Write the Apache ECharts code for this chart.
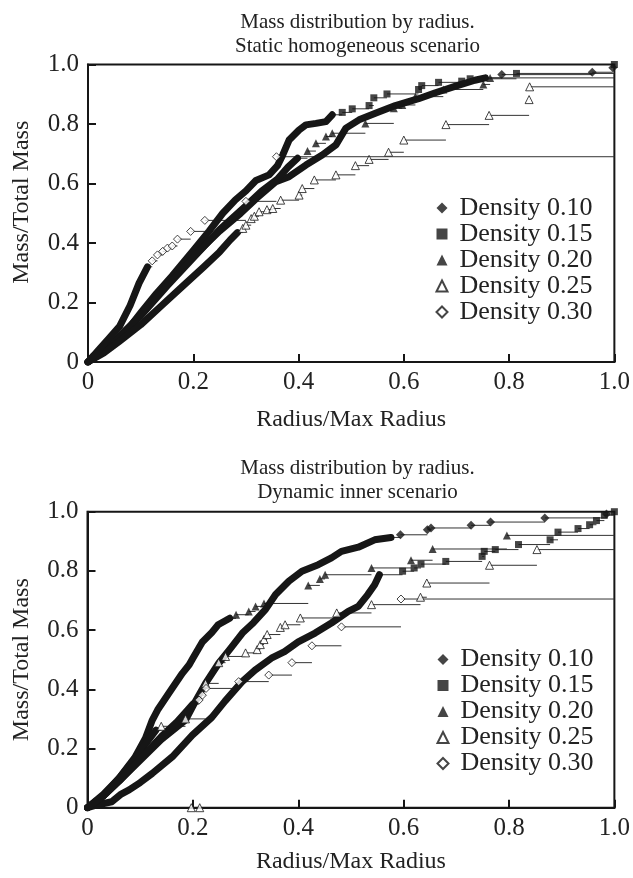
<!DOCTYPE html>
<html>
<head>
<meta charset="utf-8">
<script src="https://cdn.jsdelivr.net/npm/echarts@6/dist/echarts.min.js"></script>
<style>html,body{margin:0;padding:0;background:#fff}#c{width:633px;height:878px}</style>
</head>
<body>
<div id="c"></div>
<script>
// ---------- data ----------
const legendNames = ['Density 0.10', 'Density 0.15', 'Density 0.20', 'Density 0.25', 'Density 0.30'];
const tickValues = [0, 0.2, 0.4, 0.6, 0.8, 1.0];
const tickLabels = ['0', '0.2', '0.4', '0.6', '0.8', '1.0'];
const titleTop = 'Mass distribution by radius.\nStatic homogeneous scenario';
const titleBottom = 'Mass distribution by radius.\nDynamic inner scenario';
const xName = 'Radius/Max Radius';
const yName = 'Mass/Total Mass';

// Static homogeneous scenario (top)
const top010Band = [[0,0],[0.04,0.05],[0.08,0.12],[0.12,0.2],[0.16,0.28],[0.2,0.355],[0.25,0.44],[0.29,0.5],[0.32,0.55],[0.357,0.606],[0.382,0.623],[0.414,0.662],[0.445,0.696],[0.471,0.73],[0.49,0.786],[0.515,0.814],[0.546,0.836],[0.584,0.862],[0.628,0.885],[0.66,0.905],[0.7,0.928],[0.735,0.947],[0.755,0.955]];
const top010Pts = [[0.786,0.966],[0.958,0.974],[0.997,0.989]];
const top015Band = [[0,0],[0.01,0.02],[0.03,0.04],[0.05,0.07],[0.08,0.12],[0.1,0.165],[0.13,0.23],[0.16,0.29],[0.2,0.375],[0.23,0.44],[0.256,0.5],[0.28,0.545],[0.3,0.575],[0.319,0.61],[0.344,0.629],[0.36,0.66],[0.37,0.696],[0.382,0.746],[0.401,0.78],[0.414,0.797],[0.433,0.802],[0.452,0.808],[0.464,0.831]];
const top015Pts = [[0.483,0.839],[0.502,0.851],[0.534,0.862],[0.543,0.888],[0.568,0.901],[0.628,0.916],[0.634,0.929],[0.666,0.94],[0.71,0.944],[0.726,0.952],[0.814,0.97],[1.0,1.0]];
const top020Band = [[0,0],[0.05,0.07],[0.1,0.155],[0.15,0.255],[0.2,0.35],[0.25,0.445],[0.3,0.525],[0.33,0.575],[0.36,0.615],[0.38,0.655],[0.398,0.685]];
const top020Pts = [[0.417,0.709],[0.433,0.735],[0.452,0.758],[0.464,0.769],[0.527,0.802],[0.581,0.853],[0.597,0.864],[0.622,0.892],[0.675,0.916],[0.751,0.933],[0.764,0.955]];
const top025Band = [[0,0],[0.03,0.03],[0.06,0.07],[0.1,0.125],[0.14,0.19],[0.18,0.255],[0.22,0.32],[0.25,0.37],[0.27,0.41],[0.284,0.435]];
const top025Pts = [[0.294,0.449],[0.3,0.46],[0.31,0.482],[0.316,0.49],[0.325,0.505],[0.34,0.512],[0.351,0.516],[0.366,0.544],[0.401,0.561],[0.407,0.583],[0.43,0.612],[0.471,0.629],[0.508,0.66],[0.534,0.681],[0.571,0.705],[0.6,0.746],[0.68,0.798],[0.762,0.829],[0.838,0.882],[0.839,0.925]];
const top030Band = [[0,0],[0.02,0.04],[0.04,0.08],[0.06,0.12],[0.08,0.19],[0.097,0.265],[0.113,0.32]];
const top030Pts = [[0.122,0.34],[0.132,0.36],[0.142,0.372],[0.151,0.383],[0.16,0.39],[0.17,0.413],[0.195,0.439],[0.222,0.476],[0.30,0.54],[0.358,0.69]];

// Dynamic inner scenario (bottom)
const bot010Band = [[0,0],[0.03,0.04],[0.06,0.09],[0.1,0.16],[0.14,0.23],[0.186,0.296],[0.205,0.36],[0.224,0.42],[0.249,0.488],[0.27,0.535],[0.294,0.59],[0.315,0.625],[0.338,0.67],[0.357,0.72],[0.382,0.765],[0.407,0.799],[0.438,0.821],[0.463,0.844],[0.482,0.866],[0.514,0.88],[0.545,0.905],[0.576,0.913]];
const bot010Pts = [[0.594,0.922],[0.645,0.939],[0.652,0.945],[0.728,0.954],[0.765,0.965],[0.868,0.979],[0.985,0.992]];
const bot015Band = [[0,0],[0.02,0.01],[0.046,0.02],[0.064,0.046],[0.079,0.06],[0.1,0.085],[0.123,0.116],[0.161,0.172],[0.199,0.245],[0.236,0.305],[0.261,0.36],[0.293,0.425],[0.318,0.465],[0.349,0.505],[0.374,0.527],[0.4,0.56],[0.432,0.59],[0.463,0.624],[0.495,0.663],[0.514,0.68],[0.532,0.72],[0.545,0.753],[0.554,0.787]];
const bot015Pts = [[0.598,0.799],[0.62,0.81],[0.633,0.823],[0.68,0.832],[0.749,0.849],[0.753,0.866],[0.774,0.872],[0.818,0.889],[0.878,0.905],[0.893,0.931],[0.931,0.943],[0.953,0.956],[0.966,0.97],[0.981,0.988],[1.0,1.0]];
const bot020Band = [[0,0],[0.03,0.045],[0.06,0.1],[0.09,0.17],[0.11,0.235],[0.123,0.296],[0.133,0.33],[0.154,0.386],[0.18,0.454],[0.193,0.483],[0.2,0.505],[0.218,0.56],[0.236,0.592],[0.248,0.618],[0.27,0.64]];
const bot020Pts = [[0.282,0.652],[0.306,0.663],[0.319,0.68],[0.335,0.69],[0.419,0.751],[0.441,0.773],[0.451,0.787],[0.539,0.81],[0.614,0.836],[0.655,0.874],[0.796,0.92]];
const bot025Band = [[0,0],[0.03,0.04],[0.06,0.1],[0.09,0.165],[0.11,0.215],[0.13,0.262]];
const bot025Pts = [[0.14,0.275],[0.186,0.3],[0.224,0.42],[0.249,0.49],[0.262,0.511],[0.3,0.523],[0.322,0.534],[0.328,0.551],[0.335,0.568],[0.341,0.585],[0.366,0.609],[0.375,0.618],[0.404,0.641],[0.473,0.658],[0.539,0.686],[0.632,0.711],[0.644,0.759],[0.763,0.819],[0.853,0.872]];
const bot025Out = [[0.197,0],[0.213,0]];
const bot030Band = [[0,0],[0.03,0.04],[0.06,0.09],[0.1,0.165],[0.14,0.24],[0.17,0.29],[0.19,0.33],[0.2,0.35]];
const bot030Pts = [[0.212,0.364],[0.218,0.38],[0.225,0.403],[0.287,0.426],[0.344,0.448],[0.388,0.49],[0.426,0.547],[0.482,0.611],[0.595,0.705]];

// ---------- build ----------
const FONT = '"Liberation Serif", "DejaVu Serif", serif';
const INK = '#161616';
const styles = {
  'Density 0.10': { symbol: 'diamond', size: 9, hollow: false },
  'Density 0.15': { symbol: 'rect', size: 7, hollow: false },
  'Density 0.20': { symbol: 'triangle', size: 8, hollow: false },
  'Density 0.25': { symbol: 'triangle', size: 8, hollow: true },
  'Density 0.30': { symbol: 'diamond', size: 8, hollow: true }
};

// horizontal step segment from each point to the next point's radius (last one to the axis end)
function stepData(all) {
  const out = [];
  for (let i = 0; i < all.length; i++) {
    const nx = i + 1 < all.length ? all[i + 1][0] : 1.0;
    out.push([all[i][0], all[i][1], Math.max(nx, all[i][0])]);
  }
  return out;
}

const series = [];
function addSeries(p, name, band, pts) {
  const st = styles[name];
  series.push({
    type: 'custom', xAxisIndex: p, yAxisIndex: p, silent: true, z: 1,
    data: stepData([band[band.length - 1]].concat(pts)),
    encode: { x: [0, 2], y: 1 },
    clip: false,
    renderItem: function (params, api) {
      const a = api.coord([api.value(0), api.value(1)]);
      const b = api.coord([api.value(2), api.value(1)]);
      return { type: 'line', shape: { x1: a[0], y1: a[1], x2: b[0], y2: b[1] },
               style: { stroke: '#333', lineWidth: 1 } };
    }
  });
  series.push({
    type: 'line', xAxisIndex: p, yAxisIndex: p, silent: true, z: 2,
    data: band, symbol: 'none',
    lineStyle: { width: 7, color: INK, join: 'round', cap: 'round' }
  });
  series.push({
    name: name, type: 'scatter', xAxisIndex: p, yAxisIndex: p, silent: true, z: 3,
    data: pts, symbol: st.symbol, symbolSize: st.size, clip: false,
    itemStyle: st.hollow ? { color: '#fff', borderColor: INK, borderWidth: 1 } : { color: INK }
  });
}

addSeries(0, 'Density 0.10', top010Band, top010Pts);
addSeries(0, 'Density 0.15', top015Band, top015Pts);
addSeries(0, 'Density 0.20', top020Band, top020Pts);
addSeries(0, 'Density 0.25', top025Band, top025Pts);
addSeries(0, 'Density 0.30', top030Band, top030Pts);
addSeries(1, 'Density 0.10', bot010Band, bot010Pts);
addSeries(1, 'Density 0.15', bot015Band, bot015Pts);
addSeries(1, 'Density 0.20', bot020Band, bot020Pts);
addSeries(1, 'Density 0.25', bot025Band, bot025Pts);
addSeries(1, 'Density 0.30', bot030Band, bot030Pts);
series.push({
  name: 'Density 0.25', type: 'scatter', xAxisIndex: 1, yAxisIndex: 1, silent: true, z: 3,
  data: bot025Out, symbol: 'triangle', symbolSize: 8, clip: false,
  itemStyle: { color: '#fff', borderColor: INK, borderWidth: 1 }
});

function fmt(v) {
  const i = tickValues.findIndex(t => Math.abs(t - v) < 1e-6);
  return i >= 0 ? tickLabels[i] : '';
}

function xAxis(p, gap) {
  return {
    gridIndex: p, type: 'value', min: 0, max: 1, interval: 0.2,
    axisLine: { show: true, onZero: false, lineStyle: { color: INK, width: 2 } },
    axisTick: { show: true, inside: true, length: 8, lineStyle: { color: INK, width: 2 } },
    splitLine: { show: false },
    axisLabel: { formatter: fmt, fontFamily: FONT, fontSize: 25, color: '#222', margin: 8, showMaxLabel: true, showMinLabel: true },
    name: xName, nameLocation: 'middle', nameGap: gap,
    nameTextStyle: { fontFamily: FONT, fontSize: 24, color: '#222' }
  };
}
function yAxis(p, pad) {
  return {
    gridIndex: p, type: 'value', min: 0, max: 1, interval: 0.2,
    axisLine: { show: true, onZero: false, lineStyle: { color: INK, width: 2 } },
    axisTick: { show: true, inside: true, length: 8, lineStyle: { color: INK, width: 2 } },
    splitLine: { show: false },
    axisLabel: { formatter: fmt, fontFamily: FONT, fontSize: 25, color: '#222', margin: 9 },
    name: yName, nameLocation: 'middle', nameGap: 54,
    nameTextStyle: { fontFamily: FONT, fontSize: 24, color: '#222', padding: pad }
  };
}

function legend(left, top) {
  return {
    data: legendNames, orient: 'vertical', left: left, top: top,
    itemWidth: 11, itemHeight: 11, itemGap: 0, selectedMode: false,
    textStyle: { fontFamily: FONT, fontSize: 26, lineHeight: 23.6, color: '#222', padding: [0, 0, 0, 7] }
  };
}

const option = {
  backgroundColor: '#fff',
  animation: false,
  title: [
    { text: titleTop, left: 352.5, top: 5, textAlign: 'center',
      textStyle: { fontFamily: FONT, fontSize: 21, fontWeight: 'normal', lineHeight: 24, color: '#222' } },
    { text: titleBottom, left: 352.5, top: 451, textAlign: 'center',
      textStyle: { fontFamily: FONT, fontSize: 21, fontWeight: 'normal', lineHeight: 24, color: '#222' } }
  ],
  grid: [
    { left: 88, top: 64.5, width: 529, height: 297.5, show: true, borderColor: INK, borderWidth: 2, backgroundColor: 'transparent' },
    { left: 87.5, top: 511.7, width: 530.5, height: 296, show: true, borderColor: INK, borderWidth: 2, backgroundColor: 'transparent' }
  ],
  xAxis: [xAxis(0, 46), xAxis(1, 42)],
  yAxis: [yAxis(0, [0, 0, 0, 22]), yAxis(1, [0, 0, 0, 0])],
  legend: [legend(430.5, 190), legend(431.5, 641.5)],
  series: series
};

const chart = echarts.init(document.getElementById('c'), null, { renderer: 'canvas' });
chart.setOption(option);
</script>
</body>
</html>
